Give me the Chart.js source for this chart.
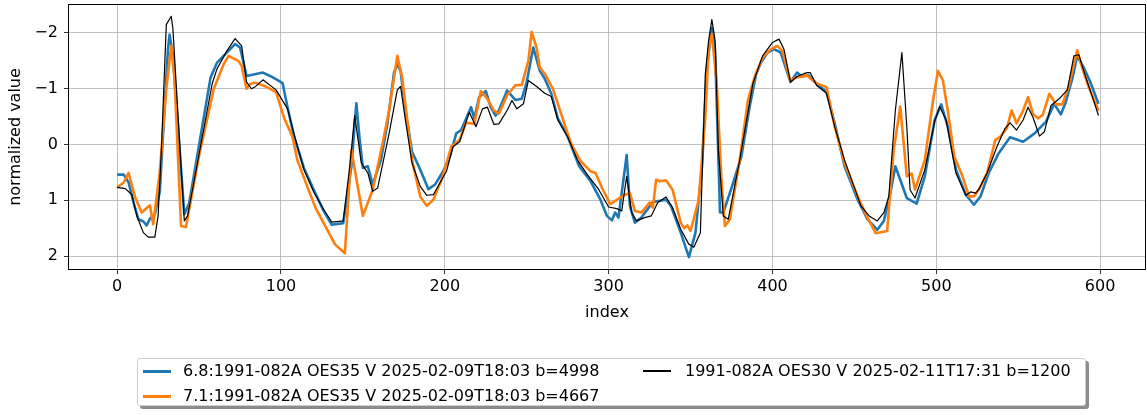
<!DOCTYPE html>
<html>
<head>
<meta charset="utf-8">
<script src="https://cdn.jsdelivr.net/npm/chart.js@4"></script>
<style>
  html,body{margin:0;padding:0;background:#fff;}
  #wrap{position:relative;width:1147px;height:415px;font-family:"DejaVu Sans",sans-serif;}
  #c{position:absolute;left:0;top:0;}
  #legend{position:absolute;left:137px;top:358px;width:947px;height:46px;border:1px solid #cfcfcf;border-radius:3px;background:#fff;box-shadow:3px 3px 0 rgba(0,0,0,0.45);}
  .item{position:absolute;font-size:16px;color:#000;white-space:nowrap;line-height:16px;}
  .sw{position:absolute;width:28px;}
</style>
</head>
<body>
<div id="wrap">
<canvas id="c" width="1147" height="415"></canvas>
<div id="legend"></div>
</div>
<script>
const blueLabel = "6.8:1991-082A OES35 V 2025-02-09T18:03 b=4998";
const orangeLabel = "7.1:1991-082A OES35 V 2025-02-09T18:03 b=4667";
const blackLabel = "1991-082A OES30 V 2025-02-11T17:31 b=1200";

const xTicks = [0, 100, 200, 300, 400, 500, 600];
const yTicks = [-2, -1, 0, 1, 2];

const blueIdx = [0,4,7,10,13,16,18,20,23,26,31,32,34,41,44,57,61,66,69,72,75,79,84,89,94,101,104,108,114,120,126,131,138,143,146,148,150,153,156,161,165,169,171,173,176,180,185,190,194,199,203,207,210,216,218,221,225,228,231,233,238,243,247,250,254,258,261,265,269,275,282,289,295,299,302,304,306,311,313,316,320,327,335,338,344,349,353,357,360,363,365,368,370,375,381,386,390,393,397,401,405,411,415,418,422,427,433,438,444,452,458,464,468,472,475,482,488,493,499,503,507,512,518,523,527,532,538,545,553,560,567,572,576,579,583,586,590,594,599];
const blueVal = [0.54,0.54,0.68,1.04,1.34,1.38,1.45,1.33,1.25,0.85,-1.7,-1.97,-1.6,1.25,1.05,-1.2,-1.47,-1.62,-1.71,-1.8,-1.74,-1.23,-1.26,-1.29,-1.22,-1.1,-0.67,-0.14,0.42,0.81,1.19,1.44,1.41,0.39,-0.74,-0.1,0.42,0.39,0.72,0.28,-0.38,-1.29,-1.44,-1.32,-0.61,0.13,0.45,0.8,0.72,0.48,0.22,-0.2,-0.26,-0.67,-0.47,-0.85,-0.96,-0.67,-0.52,-0.61,-0.97,-0.8,-0.82,-1.12,-1.74,-1.32,-1.18,-0.91,-0.47,-0.14,0.39,0.66,0.99,1.28,1.36,1.22,1.31,0.19,1.1,1.4,1.31,1.03,0.99,1.1,1.58,2.02,1.58,0.39,-1.38,-2.09,-1.68,1.22,1.22,0.78,0.22,-0.67,-1.26,-1.47,-1.65,-1.71,-1.65,-1.12,-1.29,-1.22,-1.24,-1.09,-0.94,-0.38,0.39,0.99,1.34,1.53,1.37,0.87,0.39,0.96,1.06,0.57,-0.44,-0.72,-0.32,0.45,0.9,1.08,0.93,0.51,0.16,-0.13,-0.05,-0.2,-0.41,-0.73,-0.54,-0.76,-1.18,-1.59,-1.38,-1.12,-0.73];

const orangeIdx = [0,4,7,11,15,20,22,26,30,33,35,39,42,50,59,65,68,74,76,79,81,84,90,97,102,107,110,116,121,127,133,139,143,150,156,162,166,171,174,178,180,185,189,193,198,204,209,213,218,222,226,230,233,238,243,247,251,253,256,258,261,266,271,277,283,289,292,296,301,305,310,313,316,320,325,327,329,331,335,339,344,346,348,350,355,359,361,363,366,369,371,374,380,385,389,394,399,403,406,411,414,421,426,433,438,444,452,458,463,470,474,478,482,485,487,493,498,501,504,507,511,516,520,523,526,531,536,539,543,546,549,553,556,559,562,565,569,573,577,581,586,589,593,599];
const orangeVal = [0.77,0.68,0.51,0.95,1.22,1.09,1.43,0.5,-1.0,-1.77,-1.2,1.46,1.48,0.2,-1.0,-1.44,-1.59,-1.5,-1.41,-1.0,-1.08,-1.11,-1.05,-0.94,-0.47,-0.14,0.28,0.75,1.13,1.46,1.79,1.95,0.1,1.28,0.81,-0.02,-0.61,-1.59,-1.2,-0.2,0.28,0.93,1.1,0.99,0.63,0.04,-0.08,-0.39,-0.37,-0.96,-0.82,-0.61,-0.55,-0.88,-1.06,-1.07,-1.5,-2.02,-1.74,-1.38,-1.27,-1.0,-0.55,-0.02,0.3,0.48,0.51,0.78,1.07,0.99,0.9,0.87,1.19,1.22,1.04,1.13,0.63,0.66,0.64,0.81,1.4,1.5,1.45,1.55,0.99,-0.49,-1.71,-1.98,-1.09,0.69,1.46,1.34,0.28,-0.79,-1.2,-1.56,-1.71,-1.77,-1.68,-1.13,-1.2,-1.24,-1.11,-1.03,-0.32,0.33,0.93,1.31,1.59,1.55,0.1,-0.68,0.57,0.52,0.81,0.28,-0.79,-1.32,-1.15,-0.61,0.22,0.57,0.93,0.93,0.81,0.51,-0.08,-0.14,-0.29,-0.61,-0.38,-0.61,-0.85,-0.55,-0.47,-0.53,-0.91,-0.72,-0.72,-1.06,-1.69,-1.38,-1.03,-0.61];

const blackIdx = [0,5,9,12,16,19,23,25,27,30,33,34,41,43,58,61,67,72,76,79,82,84,89,97,104,109,114,120,126,131,138,142,145,149,153,156,159,166,171,173,176,180,185,189,193,201,205,209,215,219,223,226,230,233,238,241,244,248,251,256,261,265,269,275,281,287,294,300,305,308,311,314,317,322,326,330,335,339,344,349,352,356,359,361,363,365,367,370,373,380,388,394,400,404,407,411,415,421,423,427,433,438,444,454,459,464,468,471,475,479,482,484,487,493,499,502,506,512,518,521,524,526,531,537,542,545,549,553,556,559,563,566,570,575,580,584,587,591,595,599];
const blackVal = [0.77,0.79,0.9,1.28,1.58,1.66,1.66,1.28,0.1,-2.15,-2.3,-2.09,1.37,1.28,-1.09,-1.36,-1.68,-1.9,-1.77,-1.12,-1.0,-1.03,-1.16,-0.98,-0.64,-0.08,0.45,0.85,1.16,1.39,1.37,0.39,-0.52,0.33,0.51,0.84,0.78,-0.2,-0.98,-1.04,-0.43,0.33,0.75,0.91,0.9,0.48,0.04,-0.05,-0.58,-0.32,-0.64,-0.67,-0.36,-0.37,-0.61,-0.79,-0.64,-0.73,-1.15,-1.04,-0.92,-0.86,-0.44,-0.14,0.28,0.54,0.81,1.12,1.15,1.19,0.57,1.22,1.37,1.31,1.28,1.04,0.94,1.13,1.52,1.79,1.84,1.58,-1.26,-1.86,-2.24,-1.86,0.1,1.28,1.34,0.28,-1.09,-1.59,-1.83,-1.89,-1.71,-1.12,-1.22,-1.29,-1.29,-1.06,-0.92,-0.32,0.28,1.1,1.28,1.37,1.22,0.93,-0.61,-1.65,-0.32,0.81,0.96,0.45,-0.41,-0.68,-0.44,0.51,0.91,0.85,0.87,0.8,0.51,0.04,-0.29,-0.39,-0.26,-0.44,-0.67,-0.49,-0.15,-0.23,-0.7,-0.82,-0.98,-1.59,-1.61,-1.23,-0.88,-0.52];

function pts(ix, vs){ return ix.map((x,i)=>({x:x, y:vs[i]})); }

const FONT = {family:"DejaVu Sans", size:16};
const fmt = v => (v < 0 ? "\u2212" + Math.abs(v) : String(v));

const frame = {
  id:'frame',
  afterDraw(chart){
    const a = chart.chartArea, ctx = chart.ctx;
    ctx.save();
    ctx.strokeStyle = '#000';
    ctx.lineWidth = 1;
    ctx.strokeRect(Math.round(a.left)+0.5, Math.round(a.top)+0.5, Math.round(a.right-a.left)-1, Math.round(a.bottom-a.top)-1);
    ctx.restore();
  }
};

function zeroPad(s){ s.paddingTop = 0; s.paddingBottom = 0; s.paddingLeft = 0; s.paddingRight = 0; }

new Chart(document.getElementById('c'), {
  type:'line',
  data:{
    datasets:[
      {label:blueLabel, data:pts(blueIdx,blueVal), borderColor:'#1f77b4', borderWidth:2.6, pointRadius:0, order:3, borderJoinStyle:'round'},
      {label:orangeLabel, data:pts(orangeIdx,orangeVal), borderColor:'#ff7f0e', borderWidth:2.6, pointRadius:0, order:2, borderJoinStyle:'round'},
      {label:blackLabel, data:pts(blackIdx,blackVal), borderColor:'#000000', borderWidth:1.2, pointRadius:0, order:1, borderJoinStyle:'round'}
    ]
  },
  options:{
    responsive:false,
    animation:false,
    layout:{padding:{left:0, right:1, top:4, bottom:89}},
    plugins:{legend:{display:false}, tooltip:{enabled:false}},
    scales:{
      x:{
        type:'linear', min:-30, max:628,
        afterBuildTicks(s){ s.ticks = xTicks.map(v=>({value:v})); },
        afterFit(s){ s.height = 56; zeroPad(s); },
        grid:{color:'#b0b0b0', lineWidth:0.8, tickColor:'#000', tickLength:4, drawTicks:true},
        border:{display:false},
        ticks:{font:FONT, color:'#000', padding:3, maxRotation:0, callback:v=>fmt(v)},
        title:{display:true, text:'index', font:FONT, color:'#000', padding:{top:4,bottom:4}}
      },
      y:{
        type:'linear', reverse:true, min:-2.52, max:2.25,
        afterBuildTicks(s){ s.ticks = yTicks.map(v=>({value:v})); },
        afterFit(s){ s.width = 68; zeroPad(s); },
        grid:{color:'#b0b0b0', lineWidth:0.8, tickColor:'#000', tickLength:4, drawTicks:true},
        border:{display:false},
        ticks:{font:FONT, color:'#000', padding:6, callback:v=>fmt(v)},
        title:{display:true, text:'normalized value', font:FONT, color:'#000', padding:{top:6,bottom:4}}
      }
    }
  },
  plugins:[frame]
});

const items = [
  {label:blueLabel, color:'#1f77b4', w:3, sx:5, tx:45, ty:4},
  {label:orangeLabel, color:'#ff7f0e', w:3, sx:5, tx:45, ty:29},
  {label:blackLabel, color:'#000', w:1.3, sx:505, tx:547, ty:4}
];
const lg = document.getElementById('legend');
items.forEach(it=>{
  const sw = document.createElement('div');
  sw.className='sw';
  sw.style.left = it.sx+'px'; sw.style.top = (it.ty+8-it.w/2)+'px';
  sw.style.height = it.w+'px'; sw.style.background = it.color;
  lg.appendChild(sw);
  const t = document.createElement('div');
  t.className='item'; t.textContent = it.label;
  t.style.left = it.tx+'px'; t.style.top = it.ty+'px';
  lg.appendChild(t);
});
</script>
</body>
</html>
